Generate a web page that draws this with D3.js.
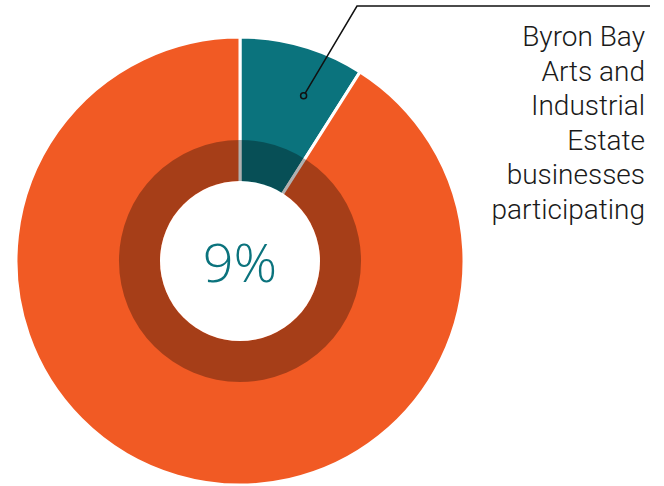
<!DOCTYPE html>
<html>
<head>
<meta charset="utf-8">
<script src="https://cdn.jsdelivr.net/npm/d3@7"></script>
<style>
  html, body { margin: 0; padding: 0; background: #fff; }
  svg { display: block; }
</style>
</head>
<body>
<svg id="chart" width="664" height="486"></svg>
<script>
// Share of businesses participating
const categories = ["Participating", "Not participating"];
const values = [9, 91];
const colors = ["#0B737D", "#F15A24"];
const labelLines = ["Byron Bay", "Arts and", "Industrial", "Estate", "businesses", "participating"];
const centerLabel = "9%";

const width = 664, height = 486;
const cx = 240, cy = 261;
const outerR = 224, ringR = 121, holeR = 80;

const svg = d3.select("#chart");
const g = svg.append("g").attr("transform", `translate(${cx},${cy})`);

const pie = d3.pie().sort(null).value(d => d.value);
const arcs = pie(categories.map((c, i) => ({ name: c, value: values[i] })));
const arc = d3.arc().innerRadius(0).outerRadius(outerR);

g.selectAll("path.slice")
  .data(arcs)
  .join("path")
  .attr("class", "slice")
  .attr("d", arc)
  .attr("fill", (d, i) => colors[i])
  .attr("stroke", "#fff")
  .attr("stroke-width", 3)
  .attr("stroke-linejoin", "miter");

// darker inner band
g.append("path")
  .attr("d", d3.arc().innerRadius(holeR).outerRadius(ringR).startAngle(0).endAngle(2 * Math.PI)())
  .attr("fill", "#000")
  .attr("fill-opacity", 0.31);

// white centre
g.append("circle").attr("r", holeR).attr("fill", "#fff");

g.append("text")
  .attr("text-anchor", "middle")
  .attr("y", 21)
  .attr("fill", "#0B737D")
  .style("font-family", "'Open Sans', sans-serif")
  .style("font-weight", 300)
  .style("font-size", "54px")
  .text(centerLabel);

// leader line from the highlighted slice to the label
const first = arcs[0];
const anchorA = first.startAngle + 0.65 * (first.endAngle - first.startAngle);
const anchorR = 177;
const ax = cx + anchorR * Math.sin(anchorA), ay = cy - anchorR * Math.cos(anchorA);
svg.append("polyline")
  .attr("points", [[ax, ay], [357, 6], [650, 6]].map(p => p.join(",")).join(" "))
  .attr("fill", "none")
  .attr("stroke", "#111")
  .attr("stroke-width", 1.5);
svg.append("circle")
  .attr("cx", ax).attr("cy", ay).attr("r", 3)
  .attr("fill", "#0B737D")
  .attr("stroke", "#111")
  .attr("stroke-width", 1.5);

const label = svg.append("text")
  .attr("text-anchor", "end")
  .attr("fill", "#1a1a1a")
  .style("font-family", "Roboto, 'Liberation Sans', sans-serif")
  .style("font-weight", 300)
  .style("font-size", "28px");
labelLines.forEach((t, i) => {
  label.append("tspan").attr("x", 645).attr("y", 46 + i * 34.5).text(t);
});
</script>
</body>
</html>
